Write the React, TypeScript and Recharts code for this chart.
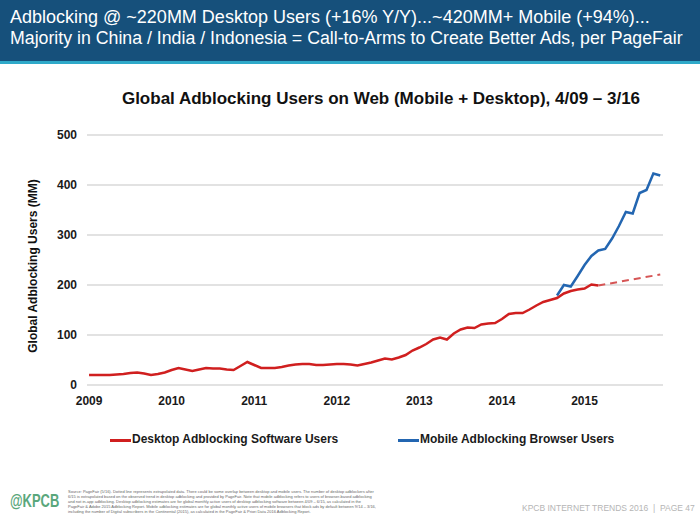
import React from 'react';
import { LineChart, Line, XAxis, YAxis, CartesianGrid, Legend } from 'recharts';

// monthly readings, starting 4/09 (index 0)
const desktopUsers = [
    20, 20, 20, 20, 21, 22, 24, 25, 23, 20, 22, 25,
    30, 34, 31, 28, 31, 34, 33, 33, 31, 30, 38, 46,
    40, 34, 34, 34, 36, 39, 41, 42, 42, 40, 40, 41,
    42, 42, 41, 39, 42, 45, 49, 53, 51, 55, 60, 69,
    75, 82, 91, 95, 91, 103, 111, 115, 114, 121, 123, 124,
    132, 142, 144, 144, 151, 159, 166, 170, 174, 183, 188, 191,
    193, 201, 199
];
const mobileStart = 68;
const mobileUsers = [179, 200, 197, 218, 240, 258, 269, 272, 293, 318, 346, 343, 384, 390, 423, 419];
// dotted extrapolation of desktop users
const projectionMonths = [74, 83];
const projectionUsers = [199, 221];
const monthCount = 84;
const yearTicks = [0, 12, 24, 36, 48, 60, 72];
const yearLabels = ['2009', '2010', '2011', '2012', '2013', '2014', '2015'];
const yTicks = [0, 100, 200, 300, 400, 500];

const chartData = Array.from({ length: monthCount }, (_, i) => {
    const p = projectionMonths.indexOf(i);
    return {
        month: i,
        desktop: i < desktopUsers.length ? desktopUsers[i] : null,
        mobile: i >= mobileStart ? mobileUsers[i - mobileStart] : null,
        projected: p >= 0 ? projectionUsers[p] : null
    };
});

const RED = '#d01f1f';
const BLUE = '#2366b1';
const FONT = '"Liberation Sans", Arial, sans-serif';

const LegendContent = () => (
    <div style={{ position: 'relative', width: 700, height: 20, fontFamily: FONT, fontWeight: 'bold', fontSize: 12, color: '#1a1a1a' }}>
        <div style={{ position: 'absolute', left: 110, top: 9, width: 21, height: 3, background: RED }} />
        <div style={{ position: 'absolute', left: 132, top: 2 }}>Desktop Adblocking Software Users</div>
        <div style={{ position: 'absolute', left: 398, top: 9, width: 21, height: 3, background: BLUE }} />
        <div style={{ position: 'absolute', left: 420, top: 2 }}>Mobile Adblocking Browser Users</div>
    </div>
);

export default function App() {
    return (
        <div style={{ position: 'absolute', left: 0, top: 0, width: 700, height: 522, background: '#fff', overflow: 'hidden', fontFamily: FONT }}>
            {/* header band */}
            <div style={{ position: 'absolute', left: 0, top: 0, width: 700, height: 61, background: '#16507b' }} />
            <div style={{ position: 'absolute', left: 0, top: 61, width: 700, height: 3, background: '#2fa9c9' }} />
            <div style={{ position: 'absolute', left: 10, top: 7, color: '#fff', fontSize: 18, lineHeight: '21px', whiteSpace: 'nowrap' }}>
                <div>Adblocking @ ~220MM Desktop Users (+16% Y/Y)...~420MM+ Mobile (+94%)...</div>
                <div style={{ transform: 'scaleX(0.985)', transformOrigin: 'left' }}>Majority in China / India / Indonesia = Call-to-Arms to Create Better Ads, per PageFair</div>
            </div>

            <div style={{ position: 'absolute', left: 0, top: 89, width: 762, textAlign: 'center', fontWeight: 'bold', fontSize: 17, color: '#111' }}>
                Global Adblocking Users on Web (Mobile + Desktop), 4/09 – 3/16
            </div>

            <div style={{ position: 'absolute', left: 33, top: 266, width: 0, height: 0 }}>
                <div style={{ position: 'absolute', transform: 'translate(-50%, -50%) rotate(-90deg)', whiteSpace: 'nowrap', fontWeight: 'bold', fontSize: 12, color: '#111' }}>
                    Global Adblocking Users (MM)
                </div>
            </div>

            <div style={{ position: 'absolute', left: 0, top: 120 }}>
                <LineChart width={700} height={350} data={chartData} margin={{ top: 15, right: 37, left: 0, bottom: 35 }}>
                    <CartesianGrid vertical={false} stroke="#d8d8d8" strokeWidth={1.5} />
                    <XAxis
                        dataKey="month"
                        type="number"
                        domain={[-0.3, 83.4]}
                        ticks={yearTicks}
                        tickFormatter={(v) => yearLabels[yearTicks.indexOf(v)]}
                        height={30}
                        axisLine={false}
                        tickLine={false}
                        tickMargin={5}
                        tick={{ fill: '#1a1a1a', fontSize: 12, fontWeight: 'bold', fontFamily: FONT }}
                    />
                    <YAxis
                        domain={[0, 500]}
                        ticks={yTicks}
                        width={87}
                        axisLine={false}
                        tickLine={false}
                        tickMargin={4}
                        tick={{ fill: '#1a1a1a', fontSize: 12, fontWeight: 'bold', fontFamily: FONT }}
                    />
                    <Legend verticalAlign="bottom" height={20} wrapperStyle={{ left: 0, bottom: 20, width: 700 }} content={<LegendContent />} />
                    <Line dataKey="desktop" stroke={RED} strokeWidth={2.5} dot={false} isAnimationActive={false} />
                    <Line dataKey="projected" stroke="#d65555" strokeWidth={2} strokeDasharray="7 5" dot={false} connectNulls isAnimationActive={false} legendType="none" />
                    <Line dataKey="mobile" stroke={BLUE} strokeWidth={2.5} dot={false} isAnimationActive={false} />
                </LineChart>
            </div>

            {/* footer */}
            <div style={{ position: 'absolute', left: 10, top: 490, color: '#5aa77c', fontWeight: 'bold', fontSize: 19, transform: 'scaleX(0.68)', transformOrigin: 'left' }}>@KPCB</div>
            <div style={{ position: 'absolute', left: 68, top: 489, width: 310, color: '#666', fontSize: 4, lineHeight: '5px' }}>
                Source: PageFair (5/16). Dotted line represents extrapolated data. There could be some overlap between desktop and mobile users. The number of desktop adblockers after 6/15 is extrapolated based on the observed trend in desktop adblocking and provided by PageFair. Note that mobile adblocking refers to users of browser-based adblocking and not in-app adblocking.
                Desktop adblocking estimates are for global monthly active users of desktop adblocking software between 4/09 – 6/15, as calculated in the PageFair & Adobe 2015 Adblocking Report. Mobile adblocking estimates are for global monthly active users of mobile browsers that block ads by default between 9/14 – 3/16, including the number of Digital subscribers in the Continental (2015), as calculated in the PageFair & Priori Data 2016 Adblocking Report.
            </div>
            <div style={{ position: 'absolute', left: 522, top: 503, color: '#b5b5b5', fontSize: 8.5, whiteSpace: 'nowrap' }}>
                KPCB INTERNET TRENDS 2016&nbsp;&nbsp;|&nbsp;&nbsp;PAGE 47
            </div>
        </div>
    );
}
